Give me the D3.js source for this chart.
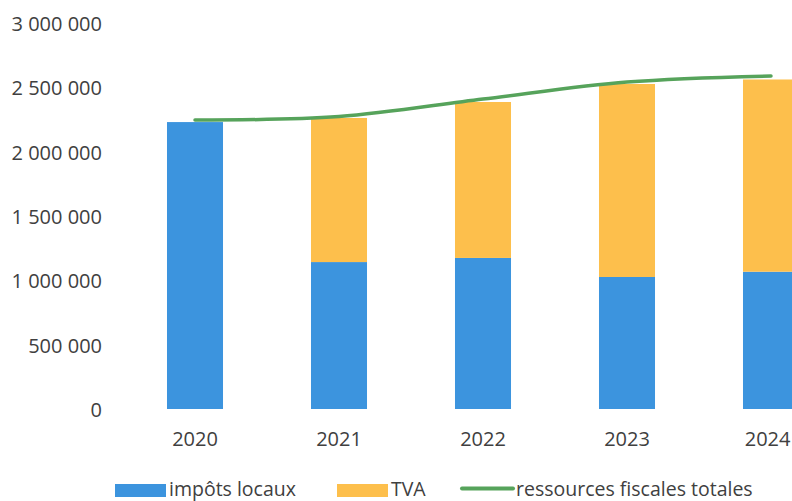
<!DOCTYPE html>
<html>
<head>
<meta charset="utf-8">
<script src="https://cdn.jsdelivr.net/npm/d3@7"></script>
<style>
  html, body { margin: 0; padding: 0; background: #fff; overflow: hidden; }
  svg { display: block; }
  text { font-family: "Open Sans", "Noto Sans", sans-serif; fill: #404040; }
</style>
</head>
<body>
<svg id="chart" width="792" height="501"></svg>
<script>
// Ressources fiscales (en euros) par année
const years = ["2020", "2021", "2022", "2023", "2024"];
const impotsLocaux = [2230000, 1142000, 1174000, 1026000, 1067000];
const tva = [0, 1120000, 1212000, 1500000, 1494000];
const ressourcesTotales = [2246000, 2273000, 2409000, 2541000, 2588000];
const yTicks = [0, 500000, 1000000, 1500000, 2000000, 2500000, 3000000];
const seriesNames = ["impôts locaux", "TVA", "ressources fiscales totales"];

const colors = { impots: "#3c94de", tva: "#fdbf4c", total: "#56a35b" };

const W = 792;
const svg = d3.select("#chart");

const y = d3.scaleLinear().domain([0, 3000000]).range([409, 23]);
const x = d3.scaleBand().domain(years).range([123, 843])
  .paddingInner(0.611).paddingOuter(0.3055);

// French number format: thousands separated by spaces
const fr = d3.formatLocale({ decimal: ",", thousands: " ", grouping: [3], currency: ["", " €"] });
const fmt = fr.format(",d");

// Y axis labels only (no axis line, no ticks)
const yAxis = d3.axisLeft(y).tickValues(yTicks).tickFormat(fmt).tickSize(0).tickPadding(0);
const gy = svg.append("g").attr("transform", "translate(102,1)").call(yAxis);
gy.select(".domain").remove();
gy.selectAll("text").style("font-size", "20px").attr("fill", "#404040")
  .style("font-family", "'Open Sans', sans-serif");

// Stacked bars
const rows = years.map((yr, i) => ({ year: yr, impots: impotsLocaux[i], tva: tva[i] }));
const stack = d3.stack().keys(["impots", "tva"])(rows);

svg.append("g").selectAll("g").data(stack).join("g")
  .attr("fill", d => colors[d.key])
  .selectAll("rect").data(d => d.filter(s => s[1] > s[0])).join("rect")
  .attr("x", d => x(d.data.year))
  .attr("width", x.bandwidth())
  .attr("y", d => y(d[1]))
  .attr("height", d => y(d[0]) - y(d[1]));

// Total line
const line = d3.line()
  .x((d, i) => x(years[i]) + x.bandwidth() / 2)
  .y(d => y(d))
  .curve(d3.curveCatmullRom.alpha(0.5));

svg.append("path")
  .datum(ressourcesTotales)
  .attr("d", line)
  .attr("fill", "none")
  .attr("stroke", colors.total)
  .attr("stroke-width", 3.5)
  .attr("stroke-linecap", "round");

// X axis labels
const xAxis = d3.axisBottom(x).tickSize(0).tickPadding(0);
const gx = svg.append("g").attr("transform", "translate(0,432)").call(xAxis);
gx.select(".domain").remove();
gx.selectAll("text").style("font-size", "20px").attr("fill", "#404040")
  .attr("dy", "0.71em")
  .style("font-family", "'Open Sans', sans-serif");

// Keep the last year label inside the drawing area
gx.selectAll(".tick text").each(function () {
  const bb = this.getBBox();
  const tick = this.parentNode;
  const tx = +d3.select(tick).attr("transform").match(/translate\(([-\d.]+)/)[1];
  const right = tx + bb.x + bb.width;
  if (right > W - 1) d3.select(this).attr("x", (W - 1) - right);
});

// Legend
const legend = svg.append("g");
const legendItems = [
  { name: seriesNames[0], type: "rect", color: colors.impots, x: 115 },
  { name: seriesNames[1], type: "rect", color: colors.tva, x: 337 },
  { name: seriesNames[2], type: "line", color: colors.total, x: 462 }
];
legendItems.forEach(it => {
  if (it.type === "rect") {
    legend.append("rect").attr("x", it.x).attr("y", 484).attr("width", 51).attr("height", 13)
      .attr("fill", it.color);
  } else {
    legend.append("line").attr("x1", it.x).attr("x2", it.x + 51)
      .attr("y1", 488.5).attr("y2", 488.5)
      .attr("stroke", it.color).attr("stroke-width", 4).attr("stroke-linecap", "round");
  }
  legend.append("text").attr("x", it.x + 54).attr("y", 496)
    .style("font-size", "19.5px").text(it.name);
});
</script>
</body>
</html>
